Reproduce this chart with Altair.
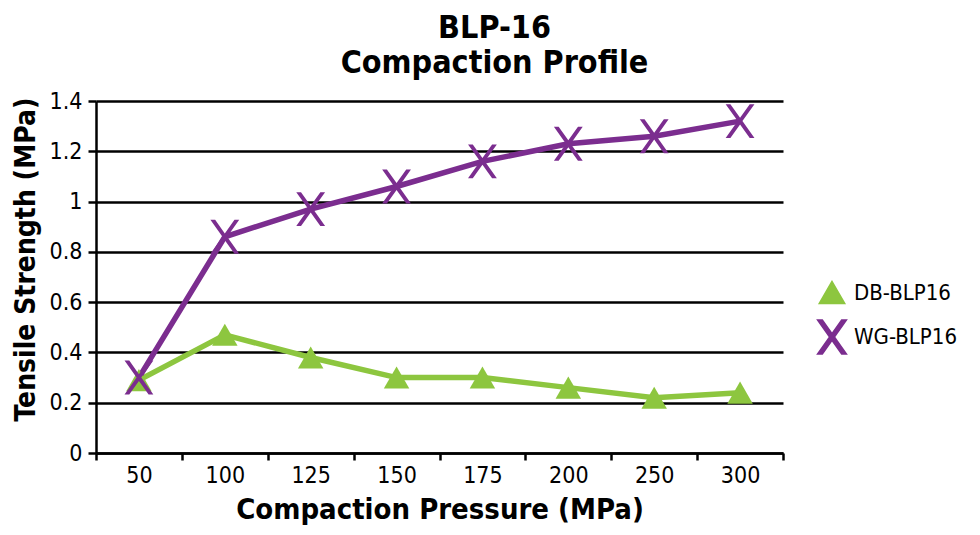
import altair as alt
import pandas as pd

pressures = ["50", "100", "125", "150", "175", "200", "250", "300"]
db_values = [0.29, 0.47, 0.38, 0.30, 0.30, 0.26, 0.22, 0.24]
wg_values = [0.30, 0.86, 0.97, 1.06, 1.16, 1.23, 1.26, 1.32]
series_names = ["DB-BLP16", "WG-BLP16"]
y_ticks = [0, 0.2, 0.4, 0.6, 0.8, 1.0, 1.2, 1.4]

rows = []
for p, v in zip(pressures, db_values):
    rows.append({"pressure": p, "value": v, "series": series_names[0]})
for p, v in zip(pressures, wg_values):
    rows.append({"pressure": p, "value": v, "series": series_names[1]})
df = pd.DataFrame(rows)

FONT = "Liberation Sans Narrow, Arial Narrow, DejaVu Sans Condensed, sans-serif"
GREEN = "#8DC63F"
PURPLE = "#7B2D8F"
X_PATH = ("M-0.85,-1L-0.57,-1L0,-0.2L0.57,-1L0.85,-1L0.14,0L0.85,1L0.57,1"
          "L0,0.2L-0.57,1L-0.85,1L-0.14,0Z")

x_enc = alt.X(
    "pressure:N", sort=pressures, bandPosition=0.5,
    scale=alt.Scale(type="band", paddingInner=0, paddingOuter=0),
    axis=alt.Axis(
        title="Compaction Pressure (MPa)", labelAngle=0, grid=False,
        tickBand="extent", domainColor="black", domainWidth=2.5,
        tickColor="black", tickWidth=2.5, tickSize=7,
        labelFont=FONT, labelFontSize=23, labelColor="black", labelPadding=4,
        titleFont=FONT, titleFontSize=29, titleFontWeight="bold",
        titleColor="black", titlePadding=8,
    ),
)
y_enc = alt.Y(
    "value:Q",
    scale=alt.Scale(domain=[0, 1.4], nice=False),
    axis=alt.Axis(
        title="Tensile Strength (MPa)", values=y_ticks, format="~g",
        grid=True, gridColor="black", gridWidth=2.5,
        domainColor="black", domainWidth=2.5,
        tickColor="black", tickWidth=2.5, tickSize=8,
        labelFont=FONT, labelFontSize=23, labelColor="black", labelPadding=6,
        titleFont=FONT, titleFontSize=28, titleFontWeight="bold",
        titleColor="black", titlePadding=9, titleY=158,
    ),
)

legend = alt.Legend(
    title=None, orient="none", legendX=718, legendY=178,
    labelFont=FONT, labelFontSize=22, labelColor="black",
    symbolSize=900, rowPadding=10, labelOffset=4,
)
color_scale = alt.Scale(domain=series_names, range=[GREEN, PURPLE])
shape_scale = alt.Scale(domain=series_names, range=["triangle-up", X_PATH])

lines = alt.Chart(df).mark_line(strokeWidth=5.5).encode(
    x=x_enc, y=y_enc,
    color=alt.Color("series:N", scale=color_scale, legend=legend),
)
points = alt.Chart(df).mark_point(filled=True, opacity=1).encode(
    x=x_enc, y=y_enc,
    color=alt.Color("series:N", scale=color_scale, legend=legend),
    shape=alt.Shape("series:N", scale=shape_scale, legend=legend),
    size=alt.Size("series:N", scale=alt.Scale(domain=series_names, range=[650, 1150]),
                  legend=None),
)

chart = alt.layer(lines, points).properties(
    width=687, height=352,
    autosize=alt.AutoSizeParams(type="none"),
    padding={"left": 88, "top": 93, "right": 189, "bottom": 74},
    title=alt.TitleParams(
        text=["BLP-16", "Compaction Profile"], font=FONT, fontSize=32,
        fontWeight="bold", color="black", anchor="middle", dx=55,
        lineHeight=35, offset=10,
    ),
    background="white",
).configure_view(stroke=None)

chart.save("out.html", embed_options={"renderer": "svg", "actions": False})
